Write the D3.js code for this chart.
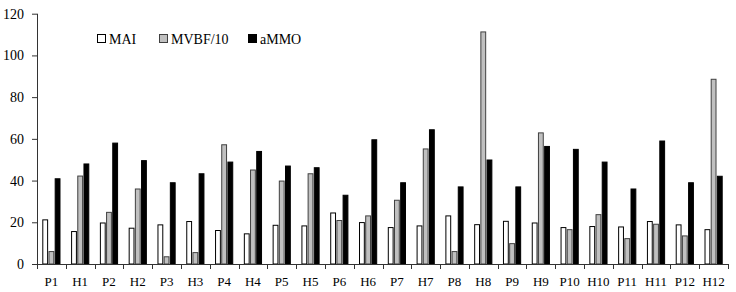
<!DOCTYPE html>
<html>
<head>
<meta charset="utf-8">
<script src="https://cdn.jsdelivr.net/npm/d3@7"></script>
<style>
  html, body { margin: 0; padding: 0; background: #fff; }
  svg { display: block; }
  text { font-family: "Liberation Serif", "Times New Roman", serif; }
</style>
</head>
<body>
<svg id="chart" width="736" height="292"></svg>
<script>
const categories = ["P1","H1","P2","H2","P3","H3","P4","H4","P5","H5","P6","H6","P7","H7","P8","H8","P9","H9","P10","H10","P11","H11","P12","H12"];
const seriesNames = ["MAI", "MVBF/10", "aMMO"];
const maiValues   = [21.4,15.8,19.9,17.4,19.0,20.6,16.3,14.7,18.8,18.5,24.7,20.1,17.7,18.5,23.3,19.1,20.7,19.9,17.7,18.2,18.0,20.6,19.0,16.7];
const mvbfValues  = [6.2,42.4,25.0,36.2,3.7,5.7,57.4,45.3,40.0,43.5,21.1,23.3,30.8,55.4,6.2,111.5,10.0,63.1,16.7,23.9,12.4,19.3,13.7,88.8];
const ammoValues  = [41.1,48.2,58.2,49.8,39.2,43.5,49.1,54.2,47.2,46.4,33.2,59.8,39.2,64.6,37.2,50.1,37.2,56.6,55.2,49.1,36.2,59.2,39.2,42.3];
const yTicks = [0,20,40,60,80,100,120];

const fills   = {"MAI": "#ffffff", "MVBF/10": "#c0c0c0", "aMMO": "#000000"};
const strokes = {"MAI": "#000000", "MVBF/10": "#404040", "aMMO": "#000000"};
const seriesData = {"MAI": maiValues, "MVBF/10": mvbfValues, "aMMO": ammoValues};

const svg = d3.select("#chart");
const mLeft = 37, mRight = 728, mTop = 13.7, mBottom = 264;

const x = d3.scaleBand().domain(categories).range([mLeft, mRight]).paddingInner(0).paddingOuter(0);
const bw = x.bandwidth();
const inner = d3.scaleBand().domain(seriesNames).range([5.3, bw - 5.3]).paddingInner(0.06).paddingOuter(0);
const y = d3.scaleLinear().domain([0, 120]).range([mBottom, mTop]);

// bars
seriesNames.forEach(s => {
  svg.append("g").selectAll("rect")
    .data(categories.map((c, i) => ({c, v: seriesData[s][i]})))
    .join("rect")
    .attr("x", d => x(d.c) + inner(s) + 0.5)
    .attr("y", d => y(d.v) + 0.5)
    .attr("width", inner.bandwidth() - 1)
    .attr("height", d => Math.max(0, y(0) - y(d.v) - 0.5))
    .attr("fill", fills[s])
    .attr("stroke", strokes[s])
    .attr("stroke-width", 1);
});

// y axis
const yAxis = d3.axisLeft(y).tickValues(yTicks).tickSize(5).tickPadding(8).tickFormat(d3.format("d"));
const gy = svg.append("g").attr("transform", `translate(${mLeft},0)`).call(yAxis);
gy.select(".domain").attr("stroke", "#333").attr("d", `M0.5,${mTop}V${mBottom}`);
gy.selectAll(".tick line").attr("stroke", "#333");
gy.selectAll("text").attr("font-size", 14).attr("fill", "#000")
  .style("font-family", '"Liberation Serif", serif');

// x axis: ticks at band boundaries, labels centered
const gx = svg.append("g").attr("transform", `translate(0,${mBottom})`);
gx.append("line").attr("x1", mLeft).attr("x2", mRight).attr("y1", 0.5).attr("y2", 0.5).attr("stroke", "#333");
const boundaries = categories.map(c => x(c)).concat([mRight]);
gx.selectAll("line.bt").data(boundaries).join("line").attr("class", "bt")
  .attr("x1", d => Math.round(d) + 0.5).attr("x2", d => Math.round(d) + 0.5)
  .attr("y1", 0).attr("y2", 5).attr("stroke", "#333");
gx.selectAll("text").data(categories).join("text")
  .attr("x", d => x(d) + bw / 2).attr("y", 21.5)
  .attr("text-anchor", "middle").attr("font-size", 13).attr("fill", "#000")
  .text(d => d);

// legend
const legendPos = [{s: "MAI", bx: 97}, {s: "MVBF/10", bx: 159}, {s: "aMMO", bx: 248}];
const lg = svg.append("g");
legendPos.forEach(p => {
  lg.append("rect").attr("x", p.bx + 0.5).attr("y", 34.5).attr("width", 8).attr("height", 8)
    .attr("fill", fills[p.s]).attr("stroke", strokes[p.s]);
  lg.append("text").attr("x", p.bx + 12).attr("y", 43.5).attr("font-size", 14).attr("fill", "#000").text(p.s);
});
</script>
</body>
</html>
